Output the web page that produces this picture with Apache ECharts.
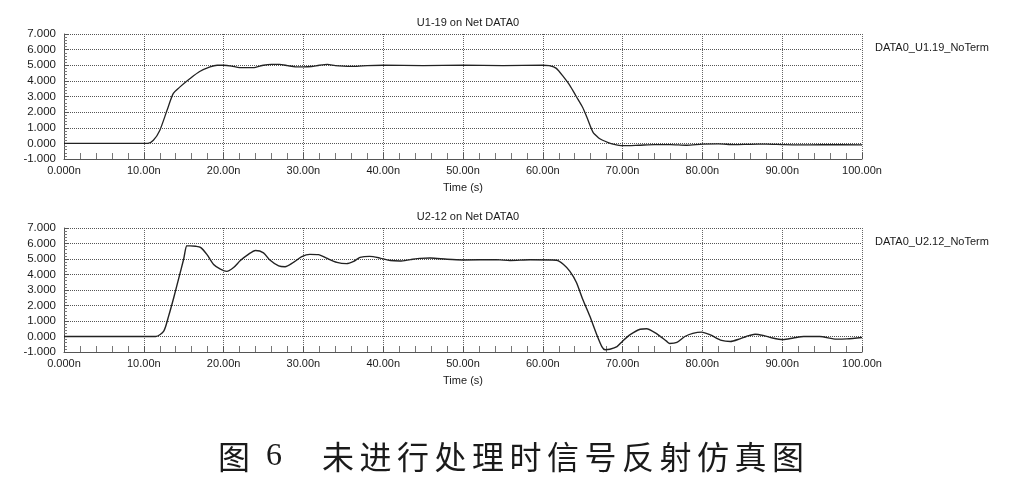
<!DOCTYPE html>
<html>
<head>
<meta charset="utf-8">
<script src="https://cdn.jsdelivr.net/npm/echarts@6/dist/echarts.min.js"></script>
<style>
  html, body { margin: 0; padding: 0; background: #fff; }
  #chart { width: 1028px; height: 488px; }
</style>
</head>
<body>
<div id="chart"></div>
<script>
// waveform at U1-19 (time in ns, voltage in V)
const u1Time = [0, 10.5, 11.2, 12, 12.9, 13.7, 14.5, 15.8, 17, 18.3, 19.2, 20, 21, 22, 23, 24, 25, 26, 27, 28, 29, 30, 31, 32, 33, 34, 35, 36.7, 38, 40, 45, 50, 55, 60, 60.8, 61.7, 62.6, 63.4, 64.2, 65, 65.5, 66.3, 67, 67.5, 68.2, 68.8, 70, 72, 74, 76, 78, 80, 82, 84, 86, 88, 90, 92, 95, 100]
const u1Volt = [0, 0, 0.2, 0.83, 2.1, 3.2, 3.6, 4.15, 4.6, 4.9, 5.0, 5.0, 4.95, 4.85, 4.85, 4.87, 5.0, 5.05, 5.05, 4.98, 4.9, 4.9, 4.92, 5.0, 5.05, 4.98, 4.95, 4.93, 4.98, 5.0, 4.98, 5.0, 4.98, 5.0, 4.97, 4.8, 4.25, 3.7, 3.0, 2.3, 1.7, 0.7, 0.35, 0.2, 0.05, -0.05, -0.15, -0.12, -0.08, -0.08, -0.12, -0.05, -0.03, -0.08, -0.06, -0.05, -0.08, -0.1, -0.08, -0.1]

// waveform at U2-12
const u2Time = [0, 11.5, 12.5, 13.1, 13.75, 14.4, 15.0, 15.4, 15.8, 16.5, 17.1, 17.9, 18.75, 19.6, 20.4, 21.25, 22.1, 23.1, 24, 25, 25.8, 26.9, 27.7, 28.75, 29.8, 30.8, 31.9, 32.9, 34.2, 35.4, 36.3, 37.1, 38.3, 39.6, 40.9, 42.1, 43.4, 44.6, 45.9, 48, 50, 54.2, 55.9, 58.4, 61.7, 62.6, 63.4, 64.2, 65, 65.9, 66.7, 67.4, 67.8, 68.4, 69.3, 70, 70.9, 72.2, 73, 74.2, 75.5, 75.9, 76.8, 77.8, 78.8, 79.9, 81, 82.4, 83.5, 84.7, 85.5, 86.6, 87.6, 88.8, 90.1, 91.4, 92.7, 94.7, 96.8, 98.1, 100]
const u2Volt = [0, 0, 0.35, 1.3, 2.5, 3.8, 5.0, 5.85, 5.85, 5.82, 5.75, 5.3, 4.65, 4.35, 4.2, 4.45, 4.9, 5.3, 5.55, 5.4, 4.93, 4.55, 4.5, 4.78, 5.15, 5.3, 5.28, 5.05, 4.78, 4.7, 4.85, 5.1, 5.17, 5.06, 4.9, 4.87, 4.96, 5.04, 5.06, 4.98, 4.94, 4.96, 4.9, 4.95, 4.92, 4.65, 4.2, 3.5, 2.4, 1.3, 0.2, -0.65, -0.85, -0.82, -0.65, -0.3, 0.1, 0.47, 0.5, 0.2, -0.3, -0.45, -0.38, 0, 0.2, 0.28, 0.1, -0.25, -0.32, -0.15, 0, 0.15, 0.07, -0.1, -0.2, -0.1, 0, 0, -0.17, -0.15, -0.06]

const panelTitles = ['U1-19 on Net DATA0', 'U2-12 on Net DATA0']
const seriesNames = ['DATA0_U1.19_NoTerm', 'DATA0_U2.12_NoTerm']
const xName = 'Time (s)'
const captionHead = '图'
const captionNum = '6'
const captionBody = '未进行处理时信号反射仿真图'

const font = '"Liberation Sans", Arial, sans-serif'
const ink = '#1a1a1a'
const gridTops = [34, 228]
const gridHeights = [125, 124]

const pairs = (t, v) => t.map((x, i) => [x, v[i]])

const xFmt = (v) => (v === 0 ? '0.000n' : v.toFixed(2) + 'n')
const yFmt = (v) => v.toFixed(3)

const chart = echarts.init(document.getElementById('chart'))

const capFont = '32px "Noto Sans CJK SC"'
const captionGraphics = [
  {
    type: 'text', left: 218, top: 441,
    style: { text: captionHead, font: capFont, fill: ink },
  },
  {
    type: 'text', left: 266, top: 441,
    style: { text: captionNum, font: '32px "Liberation Serif"', fill: ink },
  },
  ...captionBody.split('').map((ch, i) => ({
    type: 'text', left: 322 + i * 37.5, top: 441,
    style: { text: ch, font: capFont, fill: ink },
  })),
]

chart.setOption({
  backgroundColor: '#fff',
  animation: false,
  title: panelTitles.map((t, i) => ({
    text: t,
    left: 463,
    textAlign: 'center',
    top: gridTops[i] - 22,
    textStyle: { fontFamily: font, fontSize: 11, fontWeight: 'normal', color: ink },
  })),
  legend: seriesNames.map((n, i) => ({
    data: [n],
    left: 865,
    top: gridTops[i] + 3,
    icon: 'rect',
    itemWidth: 0,
    itemHeight: 0,
    textStyle: { fontFamily: font, fontSize: 11, color: ink },
  })),
  grid: gridTops.map((top, i) => ({
    left: 64,
    right: 166,
    top: top,
    height: gridHeights[i],
  })),
  xAxis: [0, 1].map((i) => ({
    type: 'value',
    gridIndex: i,
    min: 0,
    max: 100,
    interval: 10,
    name: xName,
    nameLocation: 'middle',
    nameGap: 23,
    nameTextStyle: { fontFamily: font, fontSize: 11, color: ink },
    axisLine: { show: true, onZero: false, lineStyle: { color: '#555', width: 1 } },
    axisTick: { show: true, inside: true, length: 6, lineStyle: { color: '#555' } },
    minorTick: { show: true, splitNumber: 5, length: 6, lineStyle: { color: '#777' } },
    axisLabel: { fontFamily: font, fontSize: 11, color: ink, margin: 6, formatter: xFmt },
    splitLine: { show: true, lineStyle: { color: '#666', type: 'dotted', width: 1 } },
  })),
  yAxis: [0, 1].map((i) => ({
    type: 'value',
    gridIndex: i,
    min: -1,
    max: 7,
    interval: 1,
    axisLine: { show: true, onZero: false, lineStyle: { color: '#555', width: 1 } },
    axisTick: { show: true, inside: true, length: 5, lineStyle: { color: '#555' } },
    minorTick: { show: true, splitNumber: 5, length: 3, lineStyle: { color: '#777' } },
    axisLabel: { fontFamily: font, fontSize: 11.5, color: ink, margin: 8, formatter: yFmt },
    splitLine: { show: true, lineStyle: { color: '#555', type: 'dotted', width: 1 } },
  })),
  series: [
    {
      name: seriesNames[0],
      type: 'line',
      xAxisIndex: 0,
      yAxisIndex: 0,
      data: pairs(u1Time, u1Volt),
      showSymbol: false,
      smooth: 0.25,
      lineStyle: { color: '#222', width: 1.3 },
      itemStyle: { color: '#222' },
    },
    {
      name: seriesNames[1],
      type: 'line',
      xAxisIndex: 1,
      yAxisIndex: 1,
      data: pairs(u2Time, u2Volt),
      showSymbol: false,
      smooth: 0.25,
      lineStyle: { color: '#222', width: 1.4 },
      itemStyle: { color: '#222' },
    },
  ],
  graphic: captionGraphics,
})

window.addEventListener('resize', () => chart.resize())
</script>
</body>
</html>
